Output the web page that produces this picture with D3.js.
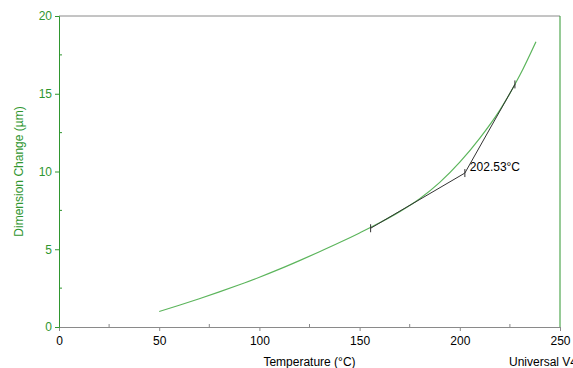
<!DOCTYPE html>
<html>
<head>
<meta charset="utf-8">
<script src="https://cdn.jsdelivr.net/npm/d3@7"></script>
<style>
  body { margin: 0; background: #fff; }
  svg { display: block; font-family: "Liberation Sans", Arial, sans-serif; }
</style>
</head>
<body>
<div id="chart"></div>
<script>
// curve
const temps = [50, 60, 70, 80, 90, 100, 110, 120, 130, 140, 150, 160, 170, 180, 190, 200, 210, 220, 230, 238];
const dims = [1.0, 1.4, 1.82, 2.26, 2.72, 3.2, 3.72, 4.27, 4.84, 5.43, 6.05, 6.7, 7.42, 8.25, 9.3, 10.6, 12.15, 13.95, 16.2, 18.35];

// onset construction: tangent points and their intersection
const onsetX = [155.5, 202.53, 227.5];
const onsetY = [6.35, 9.9, 15.6];
const onsetLabel = '202.53°C';

const xTicks = [0, 50, 100, 150, 200, 250];
const yTicks = [0, 5, 10, 15, 20];

const width = 573;
const height = 368;
const margin = { top: 16, right: 13, bottom: 41, left: 59 };

const svg = d3.select('#chart').append('svg')
  .attr('width', width)
  .attr('height', height);

const x = d3.scaleLinear().domain([0, 250]).range([margin.left, width - margin.right]);
const y = d3.scaleLinear().domain([0, 20]).range([height - margin.bottom, margin.top]);

const green = '#2f962f';
const grey = '#8a8a8a';

// frame: top grey, right green
svg.append('line')
  .attr('x1', x(0)).attr('x2', x(250))
  .attr('y1', y(20)).attr('y2', y(20))
  .attr('stroke', grey);
svg.append('line')
  .attr('x1', x(250)).attr('x2', x(250))
  .attr('y1', y(20)).attr('y2', y(0))
  .attr('stroke', green);

// x axis
const xAxis = svg.append('g')
  .attr('transform', `translate(0,${y(0)})`)
  .call(d3.axisBottom(x).tickValues(xTicks).tickSize(4).tickPadding(5).tickFormat(d3.format('d')));
xAxis.select('.domain').attr('stroke', grey);
xAxis.selectAll('.tick line').attr('stroke', grey);
xAxis.selectAll('text').attr('fill', '#000').attr('font-size', 12);
svg.append('g')
  .attr('transform', `translate(0,${y(0)})`)
  .selectAll('line')
  .data([25, 75, 125, 175, 225])
  .join('line')
  .attr('x1', (d) => x(d)).attr('x2', (d) => x(d))
  .attr('y1', 0).attr('y2', -3)
  .attr('stroke', grey);

// y axis
const yAxis = svg.append('g')
  .attr('transform', `translate(${x(0)},0)`)
  .call(d3.axisLeft(y).tickValues(yTicks).tickSize(4).tickPadding(3));
yAxis.select('.domain').attr('stroke', green);
yAxis.selectAll('.tick line').attr('stroke', green);
yAxis.selectAll('text').attr('fill', green).attr('font-size', 12);
svg.append('g')
  .attr('transform', `translate(${x(0)},0)`)
  .selectAll('line')
  .data([2.5, 7.5, 12.5, 17.5])
  .join('line')
  .attr('y1', (d) => y(d)).attr('y2', (d) => y(d))
  .attr('x1', 0).attr('x2', 3)
  .attr('stroke', green);

// titles (cut by the bottom edge, as in the original export)
svg.append('text')
  .attr('x', x(125)).attr('y', 366)
  .attr('text-anchor', 'middle')
  .attr('font-size', 12)
  .text('Temperature (°C)');
svg.append('text')
  .attr('x', 509).attr('y', 366)
  .attr('font-size', 12)
  .text('Universal V4');
svg.append('text')
  .attr('transform', `translate(23,${y(10)}) rotate(-90)`)
  .attr('text-anchor', 'middle')
  .attr('font-size', 12)
  .attr('fill', green)
  .text('Dimension Change (µm)');

// data curve
const pts = temps.map((t, i) => [t, dims[i]]);
svg.append('path')
  .datum(pts)
  .attr('fill', 'none')
  .attr('stroke', '#5cb55c')
  .attr('stroke-width', 1.2)
  .attr('d', d3.line().x((d) => x(d[0])).y((d) => y(d[1])).curve(d3.curveMonotoneX));

// onset tangents
const onset = onsetX.map((t, i) => [t, onsetY[i]]);
svg.append('path')
  .datum(onset)
  .attr('fill', 'none')
  .attr('stroke', '#333')
  .attr('stroke-width', 1)
  .attr('d', d3.line().x((d) => x(d[0])).y((d) => y(d[1])));
svg.append('g')
  .selectAll('line')
  .data(onset)
  .join('line')
  .attr('x1', (d) => x(d[0])).attr('x2', (d) => x(d[0]))
  .attr('y1', (d) => y(d[1]) - 4).attr('y2', (d) => y(d[1]) + 4)
  .attr('stroke', '#333');
svg.append('text')
  .attr('x', x(onsetX[1]) + 5).attr('y', y(onsetY[1]) - 2)
  .attr('font-size', 12)
  .text(onsetLabel);
</script>
</body>
</html>
